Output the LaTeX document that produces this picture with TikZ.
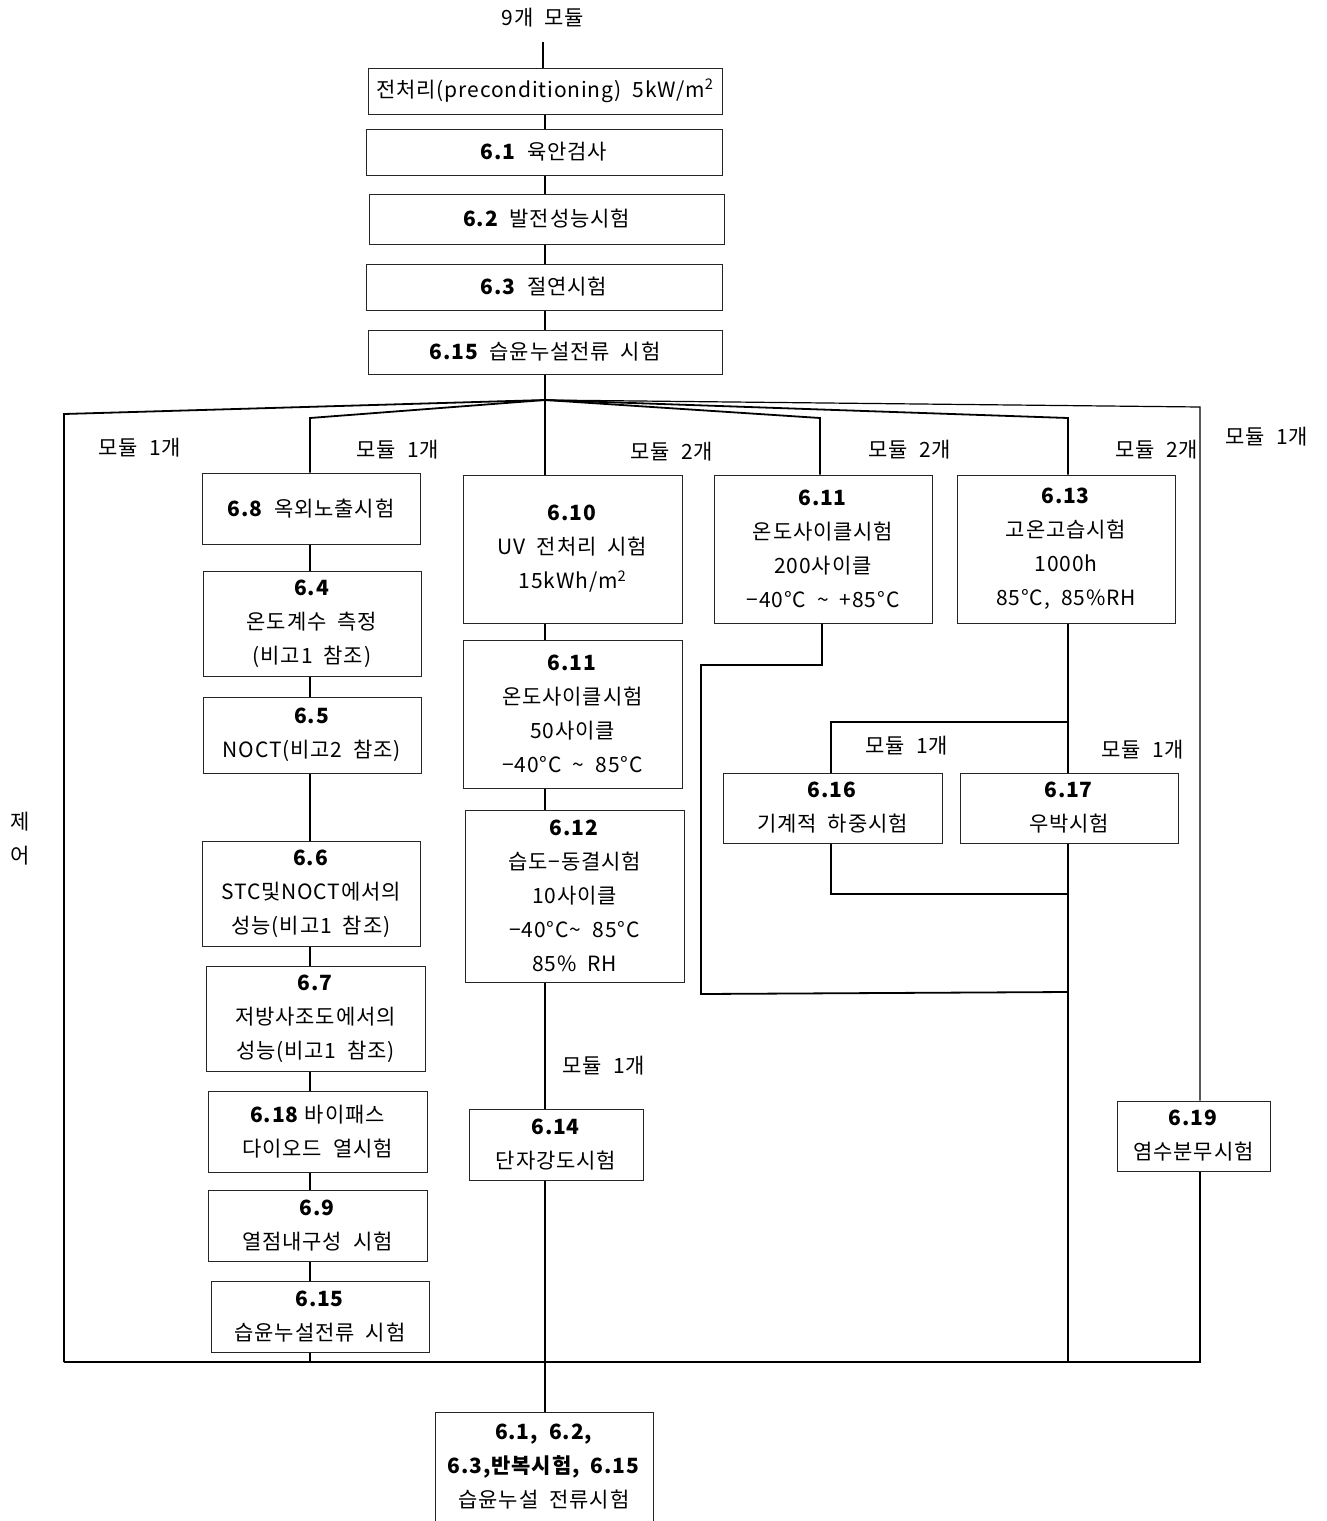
\documentclass[tikz,border=0pt]{standalone}
\usepackage{fontspec}
\setmainfont{Noto Sans CJK KR}[LetterSpace=4]
\begin{document}
\begin{tikzpicture}[x=1pt,y=-1pt,
  bx/.style={draw=black!85,line width=1pt,inner sep=0pt,align=center,font=\fontsize{21}{34}\selectfont},
  lbl/.style={inner sep=0pt,font=\fontsize{21}{34}\selectfont},
  conn/.style={line width=1.8pt,black},
  thin/.style={line width=1.2pt,black}]
\newcommand\bx[6]{\node[bx,minimum width=#4pt,minimum height=#5pt] (#1) at (#2,#3) {#6};}
\useasboundingbox (0,0) rectangle (1327,1521);
% top chain
\node[lbl] (t9) at (543,18) {9개\ \ 모듈};
\bx{pre}{545}{91}{354}{46}{전처리(preconditioning)\ \ 5kW/m\textsuperscript{2}}
\bx{b61}{544}{152}{356}{46}{\textbf{6.1}\ \ 육안검사}
\bx{b62}{546.5}{219}{355}{50}{\textbf{6.2}\ \ 발전성능시험}
\bx{b63}{544}{287}{356}{46}{\textbf{6.3}\ \ 절연시험}
\bx{b615}{545}{352}{354}{44}{\textbf{6.15}\ \ 습윤누설전류\ \ 시험}
% left column
\bx{b68}{311}{508.5}{218}{71}{\textbf{6.8}\ \ 옥외노출시험}
\bx{b64}{312}{623.5}{218}{105}{\textbf{6.4}\\온도계수\ \ 측정\\(비고1\ \ 참조)}
\bx{b65}{312}{735}{218}{76}{\textbf{6.5}\\NOCT(비고2\ \ 참조)}
\bx{b66}{311}{893.5}{218}{105}{\textbf{6.6}\\STC및NOCT에서의\\성능(비고1\ \ 참조)}
\bx{b67}{315.5}{1018.5}{219}{105}{\textbf{6.7}\\저방사조도에서의\\성능(비고1\ \ 참조)}
\bx{b618}{317.5}{1131.5}{219}{81}{\textbf{6.18}\ 바이패스\\다이오드\ \ 열시험}
\bx{b69}{317.5}{1225.5}{219}{71}{\textbf{6.9}\\열점내구성\ \ 시험}
\bx{b615b}{320}{1316.5}{218}{71}{\textbf{6.15}\\습윤누설전류\ \ 시험}
% centre column
\bx{b610}{572.5}{549}{219}{148}{\textbf{6.10}\\UV\ \ 전처리\ \ 시험\\15kWh/m\textsuperscript{2}}
\bx{b611a}{572.5}{714}{219}{148}{\textbf{6.11}\\온도사이클시험\\50사이클\\−40°C\ \ \textasciitilde\ \ 85°C}
\bx{b612}{574.5}{896}{219}{172}{\textbf{6.12}\\습도−동결시험\\10사이클\\−40°C\textasciitilde\ \ 85°C\\85\%\ \ RH}
\bx{b614}{556}{1144.5}{174}{71}{\textbf{6.14}\\단자강도시험}
% right columns
\bx{b611b}{823}{549}{218}{148}{\textbf{6.11}\\온도사이클시험\\200사이클\\−40°C\ \ \textasciitilde\ \ +85°C}
\bx{b613}{1066}{549}{218}{148}{\textbf{6.13}\\고온고습시험\\1000h\\85°C,\ \ 85\%RH}
\bx{b616}{832.5}{808}{219}{70}{\textbf{6.16}\\기계적\ \ 하중시험}
\bx{b617}{1069}{808}{218}{70}{\textbf{6.17}\\우박시험}
\bx{b619}{1193.5}{1136}{153}{70}{\textbf{6.19}\\염수분무시험}
\bx{fin}{544}{1467}{218}{110}{\textbf{6.1,\ \ 6.2,}\\\textbf{6.3,반복시험,\ \ 6.15}\\습윤누설\ \ 전류시험}
% labels
\node[lbl] (l1) at (140,448) {모듈\ \ 1개};
\node[lbl] (l2) at (398,450) {모듈\ \ 1개};
\node[lbl] (l3) at (672,452) {모듈\ \ 2개};
\node[lbl] (l4) at (910,450) {모듈\ \ 2개};
\node[lbl] (l5) at (1157,450) {모듈\ \ 2개};
\node[lbl] (l6) at (1267,437) {모듈\ \ 1개};
\node[lbl] (l7) at (907,746) {모듈\ \ 1개};
\node[lbl] (l8) at (1143,750) {모듈\ \ 1개};
\node[lbl] (l9) at (604,1066) {모듈\ \ 1개};
\node[lbl] (je) at (20,822) {제};
\node[lbl] (eo) at (20,856) {어};
% coordinates
\coordinate (c9) at (543,42);
\coordinate (J) at (545,400);
\coordinate (jl) at (64,414);
\coordinate (j68) at (310,418);
\coordinate (j611) at (820,418);
\coordinate (j613) at (1068,418);
\coordinate (j619) at (1200,407);
\coordinate (bl) at (64,1362);
\coordinate (bc) at (545,1362);
\coordinate (br) at (1068,1362);
\coordinate (brr) at (1200,1362);
% top connectors
\draw[line width=2.5pt] (c9) -- (c9 |- pre.north);
\draw[conn] (pre.south -| 545,0) -- (b61.north -| 545,0);
\draw[conn] (b61.south -| 545,0) -- (b62.north -| 545,0);
\draw[conn] (b62.south -| 545,0) -- (b63.north -| 545,0);
\draw[conn] (b63.south -| 545,0) -- (b615.north -| 545,0);
\draw[conn] (b615.south -| J) -- (J);
% fan-out
\draw[conn] (J) -- (jl) -- (bl);
\draw[conn] (J) -- (j68) -- (j68 |- b68.north);
\draw[conn] (J) -- (J |- b610.north);
\draw[conn] (J) -- (j611) -- (j611 |- b611b.north);
\draw[conn] (J) -- (j613) -- (j613 |- b613.north);
\draw[thin] (J) -- (j619) -- (j619 |- b619.north);
\draw[thin] (j619 |- b619.south) -- (brr) -- (br);
% left column chain
\draw[conn] (b68.south -| 310,0) -- (b64.north -| 310,0);
\draw[conn] (b64.south -| 310,0) -- (b65.north -| 310,0);
\draw[conn] (b65.south -| 310,0) -- (b66.north -| 310,0);
\draw[conn] (b66.south -| 310,0) -- (b67.north -| 310,0);
\draw[conn] (b67.south -| 310,0) -- (b618.north -| 310,0);
\draw[conn] (b618.south -| 310,0) -- (b69.north -| 310,0);
\draw[conn] (b69.south -| 310,0) -- (b615b.north -| 310,0);
\draw[conn] (b615b.south -| 310,0) -- (310,1362);
% bottom collector
\draw[conn] (bl) -- (br);
% centre chain
\draw[conn] (b610.south -| J) -- (b611a.north -| J);
\draw[conn] (b611a.south -| J) -- (b612.north -| J);
\draw[conn] (b612.south -| J) -- (b614.north -| J);
\draw[conn] (b614.south -| J) -- (fin.north -| J);
% 6.11 (200 cycles) return
\draw[conn] (b611b.south -| 822,0) -- (822,665) -- (701,665) -- (701,994) -- (1068,992);
% 6.13 column
\draw[conn] (b613.south -| 1068,0) -- (b617.north -| 1068,0);
\draw[conn] (b617.south -| 1068,0) -- (br);
\draw[conn] (1068,722) -- (831,722) -- (b616.north -| 831,0);
\draw[conn] (b616.south -| 831,0) -- (831,894) -- (1068,894);
\end{tikzpicture}
\end{document}
